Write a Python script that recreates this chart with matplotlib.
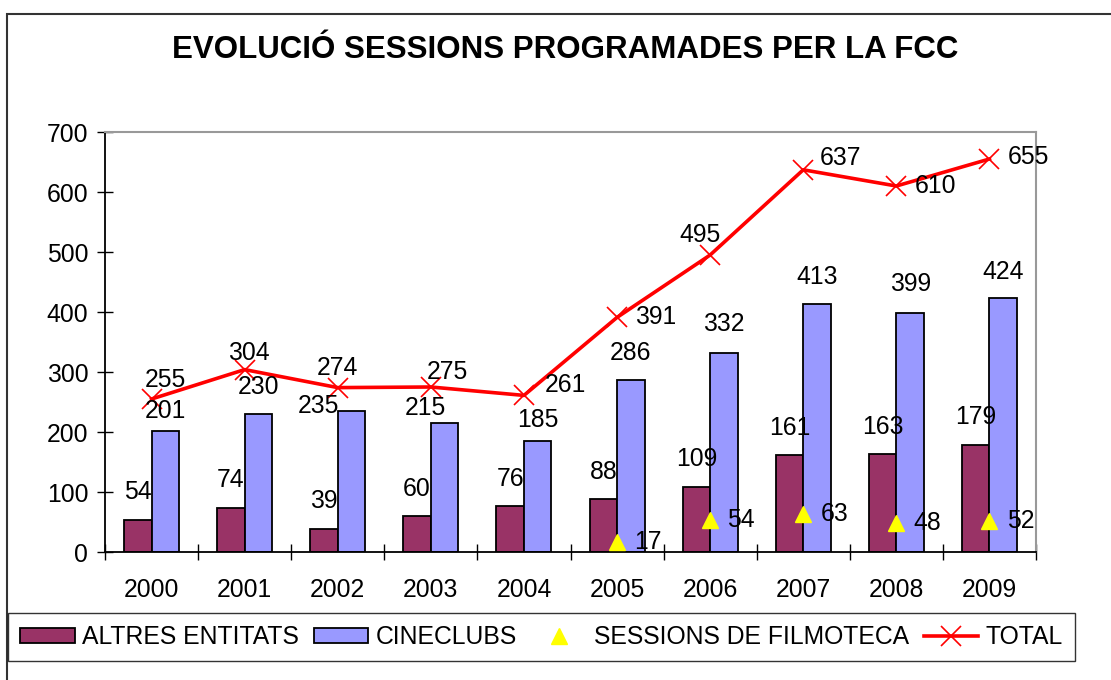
import numpy as np
import matplotlib
matplotlib.use("Agg")
import matplotlib.pyplot as plt
from matplotlib.patches import Rectangle

plt.rcParams['font.family'] = ['Liberation Sans', 'DejaVu Sans']

years = ['2000', '2001', '2002', '2003', '2004', '2005', '2006', '2007', '2008', '2009']
altres = [54, 74, 39, 60, 76, 88, 109, 161, 163, 179]
cineclubs = [201, 230, 235, 215, 185, 286, 332, 413, 399, 424]
filmoteca = [None, None, None, None, None, 17, 54, 63, 48, 52]
total = [255, 304, 274, 275, 261, 391, 495, 637, 610, 655]

# label offsets in pixels (dx, dy), hand placed like the original
total_off = [(14, 19), (4, 17), (0, 20), (17, 15), (41, 10), (39, 0),
             (-10, 20), (37, 12), (39, 0), (39, 2)]
cine_off = [(0, 20), (0, 27), (-33, 5), (-19, 15), (0, 21), (0, 27),
            (0, 29), (0, 27), (0, 29), (0, 26)]

fig = plt.figure(figsize=(11.11, 6.8), dpi=100)
ax = fig.add_axes([105 / 1111, 1 - 552 / 680, 931 / 1111, 420 / 680])

x = np.arange(len(years))
w = 0.295
ax.bar(x, altres, width=-w, align='edge', color='#993366', edgecolor='black', linewidth=1.3,
       label='ALTRES ENTITATS', zorder=2)
ax.bar(x, cineclubs, width=w, align='edge', color='#9999FF', edgecolor='black', linewidth=1.3,
       label='CINECLUBS', zorder=2)

fx = [i for i, v in enumerate(filmoteca) if v is not None]
fy = [v for v in filmoteca if v is not None]
ax.plot(fx, fy, linestyle='none', marker='^', color='#FFFF00', markersize=11,
        label='SESSIONS DE FILMOTECA', zorder=4)
ax.plot(x, total, color='#FF0000', linewidth=2.6, marker='x', markersize=15,
        markeredgewidth=1.2, label='TOTAL', zorder=3)

fs = 17.8
for i, v in enumerate(altres):
    ax.annotate(str(v), (x[i] - w / 2, v), xytext=(0, 27.5), textcoords='offset pixels',
                ha='center', va='center', fontsize=fs, zorder=5)
for i, v in enumerate(cineclubs):
    dx, dy = cine_off[i]
    ax.annotate(str(v), (x[i] + w / 2, v), xytext=(dx, dy), textcoords='offset pixels',
                ha='center', va='center', fontsize=fs, zorder=5)
for xi, v in zip(fx, fy):
    ax.annotate(str(v), (xi, v), xytext=(31, 0), textcoords='offset pixels',
                ha='center', va='center', fontsize=fs, zorder=5)
for i, v in enumerate(total):
    dx, dy = total_off[i]
    ax.annotate(str(v), (x[i], v), xytext=(dx, dy), textcoords='offset pixels',
                ha='center', va='center', fontsize=fs, zorder=5)

ax.set_xlim(-0.5, len(years) - 0.5)
ax.set_ylim(0, 700)
ax.set_yticks(range(0, 701, 100))
ax.set_xticks(x)
ax.set_xticklabels(years)
ax.set_xticks(np.arange(-0.5, len(years), 1), minor=True)
ax.tick_params(axis='x', which='major', length=0, labelsize=fs, pad=19)
ax.tick_params(axis='x', which='minor', direction='inout', length=12, width=1)
ax.tick_params(axis='y', direction='inout', length=12, width=1, labelsize=fs, pad=6)

for s in ['top', 'right']:
    ax.spines[s].set_color('#999999')
    ax.spines[s].set_linewidth(1.5)
for s in ['left', 'bottom']:
    ax.spines[s].set_color('black')
    ax.spines[s].set_linewidth(1.3)

fig.text(565 / 1111, 1 - 50 / 680, 'EVOLUCIÓ SESSIONS PROGRAMADES PER LA FCC',
         ha='center', va='center', fontsize=22.5, fontweight='bold')

h, l = ax.get_legend_handles_labels()
order = [l.index(n) for n in ['ALTRES ENTITATS', 'CINECLUBS', 'SESSIONS DE FILMOTECA', 'TOTAL']]
leg = fig.legend([h[i] for i in order], [l[i] for i in order],
                 loc='center left', bbox_to_anchor=(8 / 1111, 1 - 637 / 680), ncol=4,
                 fontsize=fs, frameon=True, fancybox=False, edgecolor='black',
                 handlelength=2.2, handleheight=0.57, handletextpad=0.3, columnspacing=0.6,
                 borderpad=0.5, borderaxespad=0)
leg.get_frame().set_linewidth(1.0)

fig.patches.append(Rectangle((7 / 1111, -0.1), 1.2, 1 - 14 / 680 + 0.1, transform=fig.transFigure,
                             fill=False, edgecolor='#333333', linewidth=1.5))

fig.savefig('out.png', dpi=100)
